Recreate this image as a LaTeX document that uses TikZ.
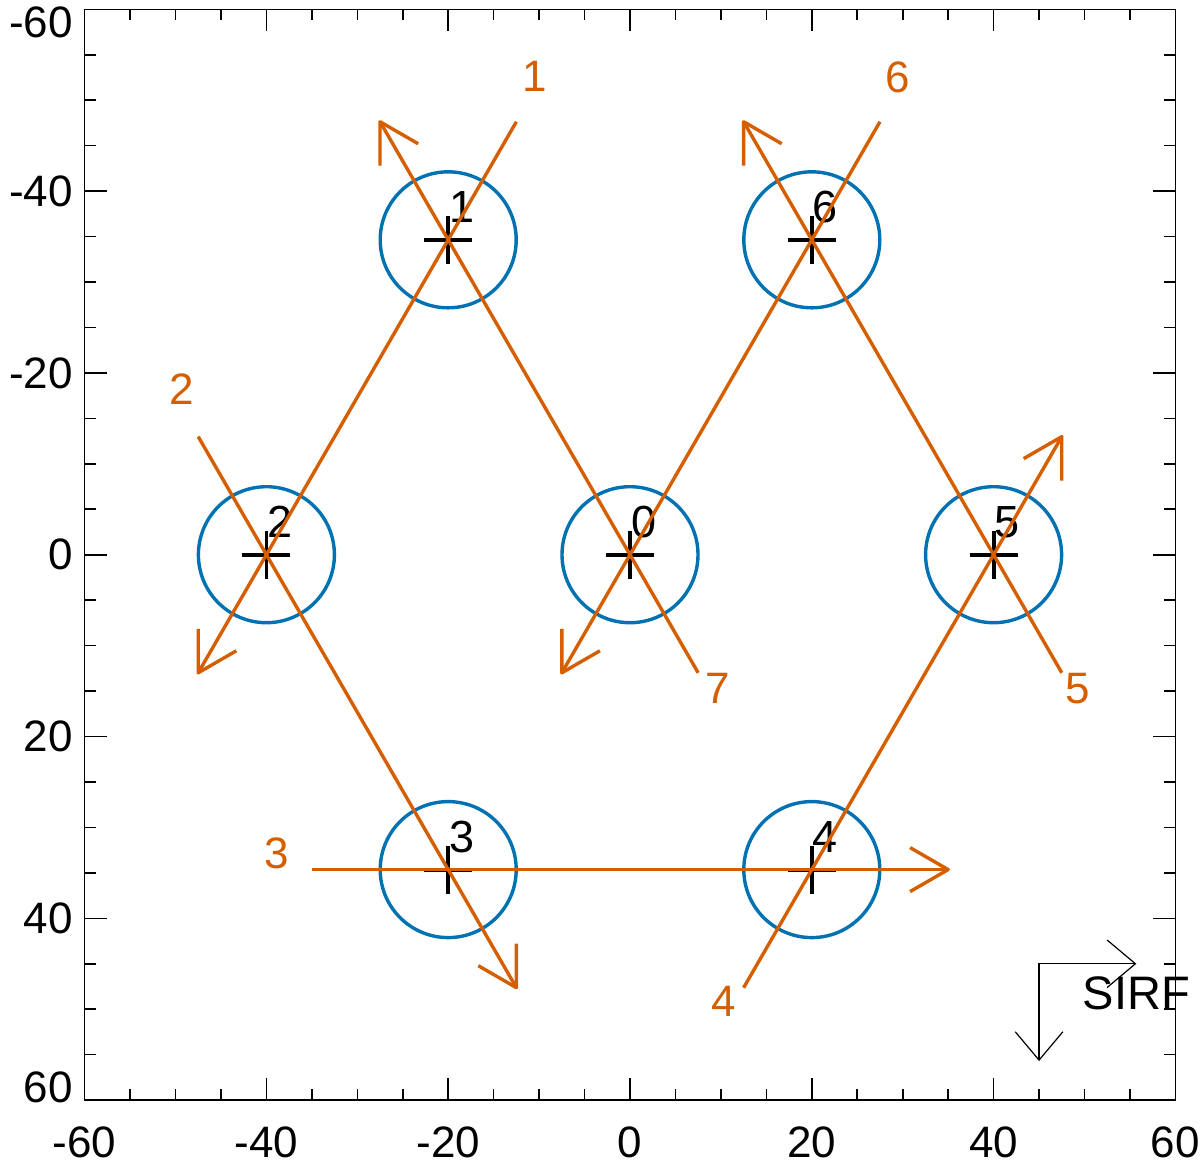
\documentclass[tikz,border=0pt]{standalone}
\usepackage{fontspec}
\setmainfont{Liberation Sans}
\usetikzlibrary{calc}
\definecolor{scanorange}{RGB}{213,94,0}
\definecolor{ringblue}{RGB}{0,114,178}
\begin{document}
\begin{tikzpicture}[x=0.5pt,y=-0.5pt,
  station/.style={circle, draw=ringblue, line width=1.7pt, minimum size=68pt, inner sep=0pt, outer sep=0pt},
  crossline/.style={black, line width=1.9pt},
  nlabel/.style={inner sep=0pt, outer sep=0pt, font=\fontsize{22.5}{26}\selectfont, text=black},
  slabel/.style={inner sep=0pt, outer sep=0pt, font=\fontsize{22}{26}\selectfont, text=scanorange},
  ticklabel/.style={inner sep=0pt, outer sep=0pt, font=\fontsize{22}{26}\selectfont, text=black},
  scan/.style={scanorange, line width=1.7pt},
  barb/.style={scanorange, line width=1.7pt, line join=round},
  axisline/.style={black, line width=0.8pt},
  sirf/.style={black, line width=0.6pt}]
\useasboundingbox (0,0) rectangle (1200,1164);
\begin{scope}[shift={(630,554.7)}, x=4.545pt, y=-4.545pt]
  % axes box and ticks
  \draw[axisline] (-60,-60) rectangle (60,60);
  \foreach \v in {-60,-55,...,60} {
    \draw[axisline] (\v,60) -- (\v,58.79);
    \draw[axisline] (\v,-60) -- (\v,-58.79);
    \draw[axisline] (-60,\v) -- (-58.79,\v);
    \draw[axisline] (60,\v) -- (58.79,\v);
  }
  \foreach \v in {-60,-40,...,60} {
    \draw[axisline] (\v,60) -- (\v,57.58);
    \draw[axisline] (\v,-60) -- (\v,-57.58);
    \draw[axisline] (-60,\v) -- (-57.58,\v);
    \draw[axisline] (60,\v) -- (57.58,\v);
  }
  % tick labels
  \foreach \v [count=\k] in {-60,-40,...,60}
    \node[ticklabel] (xt\k) at (\v,64.6) {\v};
  \node[ticklabel, anchor=east] (yt1) at (-61.3,-58.6) {-60};
  \node[ticklabel, anchor=east] (yt2) at (-61.3,-40) {-40};
  \node[ticklabel, anchor=east] (yt3) at (-61.3,-20) {-20};
  \node[ticklabel, anchor=east] (yt4) at (-61.3,0) {0};
  \node[ticklabel, anchor=east] (yt5) at (-61.3,20) {20};
  \node[ticklabel, anchor=east] (yt6) at (-61.3,40) {40};
  \node[ticklabel, anchor=east] (yt7) at (-61.3,58.6) {60};

  % stations
  \foreach \i/\x/\y in {0/0/0, 1/-20/-34.641, 2/-40/0, 3/-20/34.641, 4/20/34.641, 5/40/0, 6/20/-34.641} {
    \node[station] (n\i) at (\x,\y) {};
    \draw[crossline] ($(n\i.center)+(-12pt,0pt)$) -- ($(n\i.center)+(12pt,0pt)$);
    \draw[crossline] ($(n\i.center)+(0pt,-12pt)$) -- ($(n\i.center)+(0pt,12pt)$);
    \node[nlabel, anchor=base west] (nl\i) at ($(n\i.center)+(0.5pt,8.75pt)$) {\i};
  }

  % scan line end points
  \coordinate (s1) at (-12.5,-47.631); \coordinate (e1) at (-47.5,12.990);
  \coordinate (s2) at (-47.5,-12.990); \coordinate (e2) at (-12.5,47.631);
  \coordinate (s3) at (-35,34.641);    \coordinate (e3) at (35,34.641);
  \coordinate (s4) at (12.5,47.631);   \coordinate (e4) at (47.5,-12.990);
  \coordinate (s5) at (47.5,12.990);   \coordinate (e5) at (12.5,-47.631);
  \coordinate (s6) at (27.5,-47.631);  \coordinate (e6) at (-7.5,12.990);
  \coordinate (s7) at (7.5,12.990);    \coordinate (e7) at (-27.5,-47.631);

  \foreach \k/\a/\b in {1/1/2, 2/2/3, 3/3/4, 4/4/5, 5/5/6, 6/6/0, 7/0/1} {
    \draw[scan] (s\k) -- (n\a.center) -- (n\b.center) -- (e\k);
    \draw[barb] ($(e\k)!22pt!30:(s\k)$) -- (e\k) -- ($(e\k)!22pt!-30:(s\k)$);
  }

  % scan labels
  \node[slabel] (lab1) at (-10.5,-52.6) {1};
  \node[slabel] (lab2) at (-49.3,-18.2) {2};
  \node[slabel] (lab3) at (-38.9,32.8) {3};
  \node[slabel] (lab4) at (10.3,49.1) {4};
  \node[slabel] (lab5) at (49.2,14.7) {5};
  \node[slabel] (lab6) at (29.4,-52.5) {6};
  \node[slabel] (lab7) at (9.6,14.7) {7};

  % SIRF frame
  \coordinate (so) at (45,45);
  \coordinate (sd) at (45,55.6);
  \coordinate (sr) at (55.6,45);
  \draw[sirf] (sd) -- (so) -- (sr);
  \draw[sirf] ($(sd)!18.5pt!40:(so)$) -- (sd) -- ($(sd)!18.5pt!-40:(so)$);
  \draw[sirf] ($(sr)!18.5pt!40:(so)$) -- (sr) -- ($(sr)!18.5pt!-40:(so)$);
  \node[inner sep=0pt, outer sep=0pt, font=\fontsize{23.5}{28}\selectfont] (sirflab) at (55.7,48.2) {SIRF};
\end{scope}
\end{tikzpicture}
\end{document}
